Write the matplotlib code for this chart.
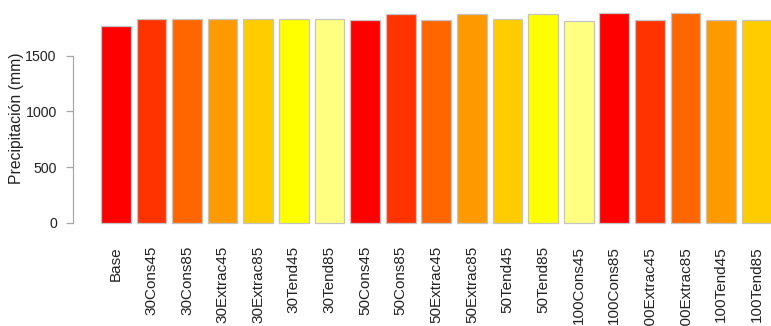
import matplotlib
matplotlib.use("Agg")
import matplotlib.pyplot as plt
import numpy as np

plt.rcParams['font.family'] = ['Liberation Sans', 'DejaVu Sans']

scenarios = ["Base", "30Cons45", "30Cons85", "30Extrac45", "30Extrac85", "30Tend45",
             "30Tend85", "50Cons45", "50Cons85", "50Extrac45", "50Extrac85", "50Tend45",
             "50Tend85", "100Cons45", "100Cons85", "100Extrac45", "100Extrac85",
             "100Tend45", "100Tend85"]
precip = [1764, 1827, 1827, 1827, 1827, 1827, 1827, 1825, 1876, 1825, 1876, 1827,
          1876, 1814, 1880, 1817, 1880, 1817, 1817]
# heat.colors(7), recycled across the bars
palette = ["#FF0000", "#FF3300", "#FF6600", "#FF9900", "#FFCC00", "#FFFF00", "#FFFF80"]
yticks = [0, 500, 1000, 1500]

W, H, DPI = 771, 326, 100
fig = plt.figure(figsize=(W / DPI, H / DPI), dpi=DPI)

unit = 29.67          # px per bar-width unit
x0_px = 95.07         # px position of x = 0
y0_px = 222.7         # px (from top) of y = 0
px_per_val = 167 / 1500

ax = fig.add_axes([x0_px / W, (H - y0_px) / H, 1 - x0_px / W, y0_px / H])
ax.set_xlim(0, (W - x0_px) / unit)
ax.set_ylim(0, y0_px / px_per_val)

space, width = 0.2, 1.0
centers = [space + width / 2 + i * (space + width) for i in range(len(scenarios))]
colors = [palette[i % len(palette)] for i in range(len(scenarios))]
ax.bar(centers, precip, width=width, color=colors, edgecolor="#C4C4C4",
       linewidth=0.9, clip_on=False)

for s in ["top", "right", "bottom"]:
    ax.spines[s].set_visible(False)
ax.spines["left"].set_position(("data", (73 - x0_px) / unit))
ax.spines["left"].set_bounds(0, 1500)
ax.spines["left"].set_color("#A8A8A8")
ax.spines["left"].set_linewidth(0.9)

ax.set_yticks(yticks)
ax.set_yticklabels([str(v) for v in yticks])
ax.tick_params(axis="y", direction="out", length=5.2, width=0.9, color="#A8A8A8",
               pad=6.5, labelsize=10.2, labelcolor="#222222")

ax.set_xticks(centers)
ax.set_xticklabels(scenarios, rotation=90, ha="center", va="top")
ax.tick_params(axis="x", length=0, pad=16.8, labelsize=11.0, labelcolor="#222222")

fig.text(17 / W, 1 - 118.5 / H, "Precipitación (mm)", rotation=90, ha="center",
         va="center", fontsize=11.3, color="#222222")

fig.savefig("out.png", dpi=DPI)
